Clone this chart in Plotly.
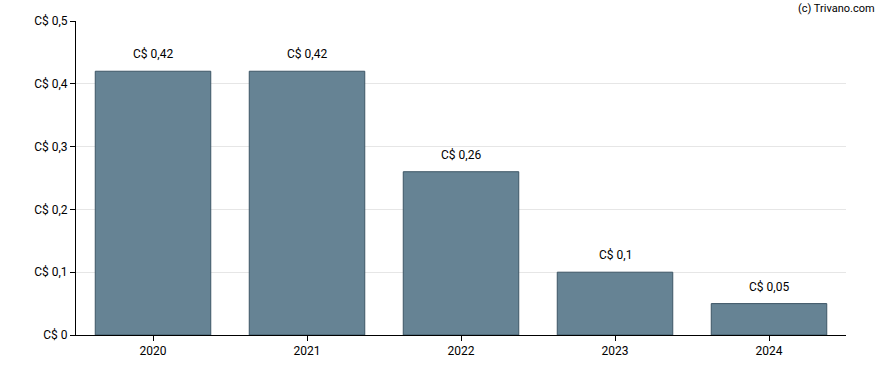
import plotly.graph_objects as go

years = ["2020", "2021", "2022", "2023", "2024"]
values = [0.42, 0.42, 0.26, 0.10, 0.05]
labels = ["C$ 0,42", "C$ 0,42", "C$ 0,26", "C$ 0,1", "C$ 0,05"]
tick_vals = [0, 0.1, 0.2, 0.3, 0.4, 0.5]
tick_text = ["C$ 0", "C$ 0,1", "C$ 0,2", "C$ 0,3", "C$ 0,4", "C$ 0,5"]

fig = go.Figure()
fig.add_trace(go.Bar(
    x=years, y=values,
    marker=dict(color="#668394", line=dict(color="#3d5666", width=1)),
    width=0.75,
))
annotations = [dict(x=i, y=v, text=t, xref="x", yref="y", showarrow=False,
                    yanchor="bottom", yshift=8,
                    font=dict(family="Roboto", size=12, color="#000000"))
               for i, (v, t) in enumerate(zip(values, labels))]
annotations.append(dict(text="(c) Trivano.com", xref="paper", yref="paper",
                        x=1.0403, y=1.041, xanchor="right", yanchor="middle",
                        showarrow=False, font=dict(family="Roboto", size=11, color="#000000")))
fig.update_layout(
    width=888, height=370,
    margin=dict(l=76, r=42, t=21, b=35),
    paper_bgcolor="white", plot_bgcolor="white",
    font=dict(family="Roboto", size=12, color="#000000"),
    showlegend=False,
    bargap=0.25,
    xaxis=dict(type="category", showline=True, linecolor="#000000", linewidth=1,
               ticks="outside", ticklen=5, tickcolor="#000000", showgrid=False,
               range=[-0.5, 4.5], automargin=False),
    yaxis=dict(range=[0, 0.5], tickvals=tick_vals, ticktext=tick_text,
               showline=True, linecolor="#000000", linewidth=1,
               ticks="outside", ticklen=5, tickcolor="#000000",
               showgrid=True, gridcolor="#e6e6e6", zeroline=False, automargin=False),
    annotations=annotations,
)
fig.write_html("out.html", config={"displayModeBar": False},
               post_script="document.body.style.margin='0';document.body.style.overflow='hidden';")
